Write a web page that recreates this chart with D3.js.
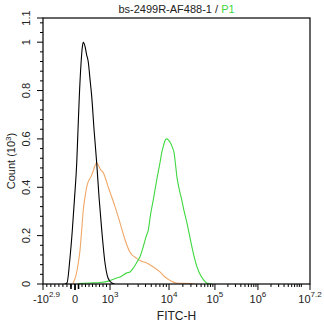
<!DOCTYPE html>
<html><head><meta charset="utf-8">
<script src="https://cdn.jsdelivr.net/npm/d3@7"></script>
<style>
html,body{margin:0;padding:0;background:#fff;}
svg{display:block;font-family:"Liberation Sans",Arial,sans-serif;}
</style></head>
<body>
<svg id="chart" width="324" height="327"></svg>
<script>
// ---- data (FITC-H intensity, count in 10^3) ----
const blackX = [-257,-200,-129,-66,-14,49,86,123,171,209,237,286,329,380,429,477,543,620,686,763,857,943,1072,1200];
const blackY = [0,0.004,0.10,0.224,0.35,0.50,0.64,0.776,0.91,0.98,1.0,0.983,0.95,0.917,0.846,0.776,0.64,0.50,0.36,0.224,0.087,0.025,0.004,0];
const orangeX = [-49,29,94,143,191,237,286,343,400,457,514,571,620,671,729,809,886,951,1000,1069,1215,1477,1795,2182,2835,3350,4190,5355,7030,8550,10513,14700,28600,36700];
const orangeY = [0.003,0.037,0.087,0.14,0.224,0.307,0.36,0.407,0.43,0.444,0.465,0.49,0.50,0.49,0.473,0.46,0.43,0.40,0.38,0.36,0.32,0.253,0.183,0.131,0.106,0.095,0.087,0.071,0.050,0.029,0.015,0.004,0.002,0];
const greenX = [94,429,714,1000,1299,1477,1919,2182,2483,2870,3221,3664,4072,4457,4853,5420,5790,6380,7030,7600,8070,8550,9140,9810,10780,11910,12840,13850,14930,15930,17340,18880,21180,24270,27230,31150,34920,39980,44860,51380,57650,66000,84700];
const greenY = [0.002,0.004,0.006,0.014,0.025,0.029,0.046,0.050,0.066,0.091,0.113,0.155,0.195,0.224,0.286,0.349,0.39,0.448,0.502,0.548,0.573,0.593,0.600,0.595,0.583,0.564,0.544,0.494,0.44,0.41,0.378,0.349,0.303,0.257,0.212,0.158,0.116,0.075,0.050,0.029,0.015,0.004,0];

const xTickValues = [-Math.pow(10,2.9), 0, 1e3, 1e4, 1e5, 1e6, Math.pow(10,7.2)];
const xTickBase = ["-10","0","10","10","10","10","10"];
const xTickExp  = ["2.9","","3","4","5","6","7.2"];
const xBreakFrac = [0, 0.1199, 0.251, 0.472, 0.644, 0.805, 1];
const yTicks = [0,0.2,0.4,0.6,0.8,1,1.1];
const yTickLabels = ["0","0.2","0.4","0.6","0.8","1","1.1"];
const titleMain = "bs-2499R-AF488-1 / ";
const titleGate = "P1";
const xLabel = "FITC-H";
const yLabel = "Count (10";

// ---- layout ----
const W = 324, H = 327;
const m = {left:43, top:18, right:14, bottom:43};
const pw = W - m.left - m.right, ph = H - m.top - m.bottom;
const svg = d3.select("#chart");
const g = svg.append("g").attr("transform",`translate(${m.left},${m.top})`);

// logicle-like transform: linear below 1000, log above
const u = v => v <= 1000 ? v/1000 : 1 + Math.log10(v/1000);
const xs = d3.scaleLinear().domain(xTickValues.map(u)).range(xBreakFrac.map(f => f*pw)).clamp(true);
const x = v => xs(u(v));
const y = d3.scaleLinear().domain([0,1.1]).range([ph,0]);

// curves
const line = d3.line().x(d => x(d[0])).y(d => y(d[1])).curve(d3.curveMonotoneX);
const series = [
  {xs: orangeX, ys: orangeY, color: "#f0a868"},
  {xs: greenX, ys: greenY, color: "#3fd83f"},
  {xs: blackX, ys: blackY, color: "#000000"}
];
const clip = g.append("clipPath").attr("id","c").append("rect").attr("width",pw).attr("height",ph);
series.forEach(s => {
  g.append("path").datum(s.xs.map((v,i)=>[v,s.ys[i]]))
   .attr("d", line).attr("fill","none").attr("stroke", s.color).attr("stroke-width",1.1)
   .attr("clip-path","url(#c)");
});

// frame
g.append("rect").attr("width",pw).attr("height",ph).attr("fill","none").attr("stroke","#000").attr("stroke-width",1.2);

// y axis
const yMinor = d3.range(0, 1.1001, 0.04).filter(v => !yTicks.some(t => Math.abs(t-v)<1e-6));
const yAxis = g.append("g");
yMinor.forEach(v => yAxis.append("line").attr("x1",0).attr("x2",-3).attr("y1",y(v)).attr("y2",y(v)).attr("stroke","#000"));
yTicks.forEach((v,i) => {
  yAxis.append("line").attr("x1",0).attr("x2",-6).attr("y1",y(v)).attr("y2",y(v)).attr("stroke","#000");
  yAxis.append("text").attr("transform",`translate(-13,${y(v)}) rotate(-90)`)
    .attr("text-anchor","middle").attr("font-size",11).attr("fill","#222").text(yTickLabels[i]);
});
svg.append("text").attr("transform",`translate(15,${m.top+ph/2+10}) rotate(-90)`)
  .attr("text-anchor","middle").attr("font-size",11).attr("fill","#222")
  .call(t => { t.append("tspan").text(yLabel); t.append("tspan").attr("dy",-4).attr("font-size",8).text("3");
               t.append("tspan").attr("dy",4).text(")"); });

// x axis
const xAxis = g.append("g").attr("transform",`translate(0,${ph})`);
let xMinor = d3.range(-700, 0, 100).concat(d3.range(100, 1000, 100));
for (let d = 3; d <= 6; d++) for (let k = 2; k <= 10; k++) { const v = k*Math.pow(10,d); if (v < xTickValues[6] && ![1e4,1e5,1e6].includes(v)) xMinor.push(v); }
xMinor.forEach(v => xAxis.append("line").attr("x1",x(v)).attr("x2",x(v)).attr("y1",0).attr("y2",3).attr("stroke","#000"));
[-100,100].forEach(v => xAxis.append("line").attr("x1",x(v)).attr("x2",x(v)).attr("y1",0).attr("y2",5).attr("stroke","#000").attr("stroke-width",1.6));
xTickValues.forEach((v,i) => {
  xAxis.append("line").attr("x1",x(v)).attr("x2",x(v)).attr("y1",0).attr("y2",6).attr("stroke","#000").attr("stroke-width", v===0?1.8:1);
  const t = xAxis.append("text").attr("y",19).attr("font-size",11).attr("fill","#222")
    .attr("x", i===0 ? x(v)-10 : x(v)).attr("text-anchor", i===0 ? "start" : "middle");
  t.append("tspan").text(xTickBase[i]);
  if (xTickExp[i]) t.append("tspan").attr("dy",-6).attr("font-size",8).text(xTickExp[i]);
});
svg.append("text").attr("x", m.left+pw/2).attr("y", 320).attr("text-anchor","middle")
  .attr("font-size",12).attr("fill","#222").text(xLabel);

// title
const title = svg.append("text").attr("x", m.left+pw/2).attr("y", 13).attr("text-anchor","middle").attr("font-size",11);
title.append("tspan").attr("fill","#222").text(titleMain);
title.append("tspan").attr("fill","#3fd83f").text(titleGate);
</script>
</body></html>
